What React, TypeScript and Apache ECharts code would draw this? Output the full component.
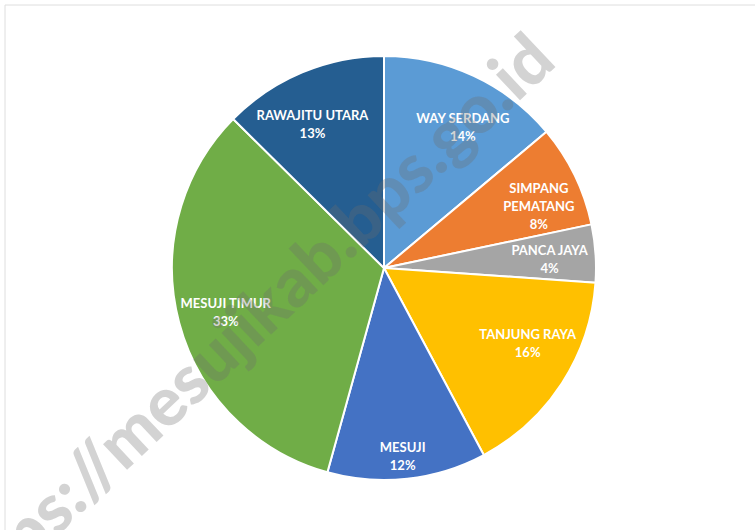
import React, { useEffect, useRef } from "react";
import * as echarts from "echarts";

const names = [
  "WAY SERDANG",
  "SIMPANG PEMATANG",
  "PANCA JAYA",
  "TANJUNG RAYA",
  "MESUJI",
  "MESUJI TIMUR",
  "RAWAJITU UTARA",
];
const values = [13.9, 7.8, 4.4, 16.1, 12.1, 33.1, 12.6];
const colors = ["#5B9BD5", "#ED7D31", "#A5A5A5", "#FFC000", "#4472C4", "#70AD47", "#255E91"];
const watermark = "https://mesujikab.bps.go.id";

// small label nudges (Excel "best fit" placement)
const labelNudgeX = [7, 2, -4, 1, 0, 6, -6];
const labelNudgeY = [13, 12, 3, -17, 19, 0, 13];

export default function App() {
  const ref = useRef<HTMLDivElement>(null);
  useEffect(() => {
    if (!ref.current) return;
    const chart = echarts.init(ref.current, null, { renderer: "svg" });
    const data = names.map((n, i) => ({ name: n, value: values[i], itemStyle: { color: colors[i] } }));
    const labelData = names.map((n, i) => ({ name: n, value: values[i] }));
    chart.setOption({
      animation: false,
      backgroundColor: "#ffffff",
      graphic: [
        {
          type: "rect",
          shape: { x: 5, y: 5, width: 800, height: 600 },
          style: { fill: "none", stroke: "#dedede", lineWidth: 1 },
          z: -1,
        },
        {
          type: "text",
          x: 540,
          y: 45,
          rotation: 0.755,
          z: 100,
          silent: true,
          style: {
            text: watermark,
            fontFamily: "Lato, 'Open Sans', sans-serif",
            fontWeight: 900,
            fontSize: 68,
            fill: "rgba(110,110,110,0.3)",
            textAlign: "right",
            textVerticalAlign: "middle",
          },
        },
      ],
      series: [
        {
          type: "pie",
          center: [384, 268],
          radius: 212,
          startAngle: 90,
          clockwise: true,
          data,
          label: { show: false },
          labelLine: { show: false },
          itemStyle: { borderColor: "#ffffff", borderWidth: 2 },
          emphasis: { disabled: true },
        },
        {
          type: "pie",
          center: [384, 268],
          radius: [122, 212],
          startAngle: 90,
          clockwise: true,
          silent: true,
          percentPrecision: 0,
          data: labelData,
          itemStyle: { color: "rgba(0,0,0,0)", borderWidth: 0 },
          emphasis: { disabled: true },
          labelLine: { show: false },
          labelLayout: (p: any) => ({ dx: labelNudgeX[p.dataIndex], dy: labelNudgeY[p.dataIndex] }),
          label: {
            show: true,
            position: "inside",
            color: "#ffffff",
            fontFamily: "Lato, 'Open Sans', sans-serif",
            fontWeight: "bold",
            fontSize: 13,
            lineHeight: 18,
            align: "center",
            overflow: "none",
            formatter: (p: any) => {
              const nm = p.name.length > 15 ? p.name.replace(" ", "\n") : p.name;
              return nm + "\n" + p.percent + "%";
            },
          },
        },
      ],
    });
    return () => chart.dispose();
  }, []);
  return (
    <div
      ref={ref}
      style={{ position: "absolute", left: 0, top: 0, width: 755, height: 530 }}
    />
  );
}
